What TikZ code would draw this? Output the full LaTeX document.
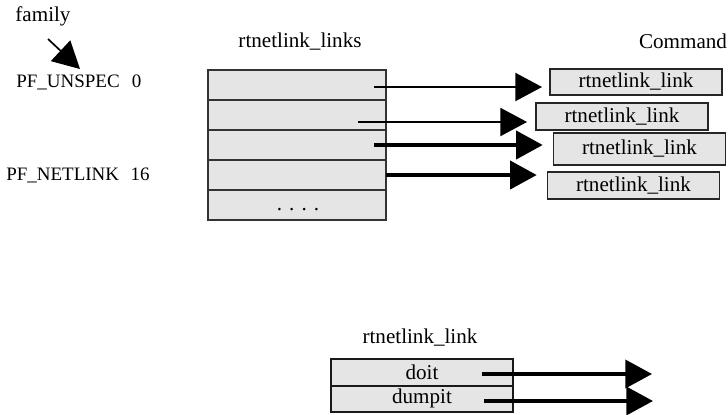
\documentclass[tikz,border=0pt]{standalone}
\usepackage{fontspec}
\setmainfont{Liberation Serif}
\usetikzlibrary{arrows.meta, positioning}

\begin{document}
\begin{tikzpicture}[x=0.025cm, y=-0.025cm, node distance=0pt,
    every node/.style={font=\fontsize{15}{17}\selectfont},
    pflabel/.style={anchor=west, inner sep=0pt, font=\fontsize{13.5}{15}\selectfont},
    cell/.style={rectangle, draw=black!80, fill=black!10, line width=0.9pt,
                 minimum width=4.45cm, minimum height=0.75cm,
                 inner sep=0pt, outer sep=0pt},
    cmdbox/.style={rectangle, draw=black!85, fill=black!10, line width=1.3pt,
                   minimum width=4.3cm, minimum height=0.67cm, inner sep=0pt},
    opbox/.style={rectangle, draw=black!90, fill=black!10, line width=1.4pt,
                  minimum width=4.55cm, minimum height=0.66cm,
                  inner sep=0pt, outer sep=0pt},
    arrow/.style={-{Triangle[length=19pt, width=20pt]}, line width=1.2pt},
    thickarrow/.style={arrow, line width=2.8pt}
]
\useasboundingbox (0,0) rectangle (728,414);

% family table
\node (fam) at (43,16) {family};
\node (unspec)  [pflabel] at (16,82) {PF\_UNSPEC\hspace{0.65em}0};
\node (netlink) [pflabel] at (6,175) {PF\_NETLINK\hspace{0.6em}16};
\coordinate (fa) at (48,39);
\coordinate (fb) at (80,69);
\draw [arrow] (fa) -- (fb);

% rtnetlink_links array
\node (links) at (300,42) {rtnetlink\_links};
\node (row1) [cell] at (297,85) {};
\node (row2) [cell, below=of row1] {};
\node (row3) [cell, below=of row2] {};
\node (row4) [cell, below=of row3] {};
\node (row5) [cell, below=of row4] {};
\node (dots) at (298,210) {. . . .};

% command entries
\node (cmd)  at (683,41) {Command};
\node (cmd1) [cmdbox] at (636,82)    {rtnetlink\_link};
\node (cmd2) [cmdbox] at (622,116.5) {rtnetlink\_link};
\node (cmd3) [cmdbox, minimum height=0.8cm] at (639.5,149) {rtnetlink\_link};
\node (cmd4) [cmdbox] at (633.5,185.5) {rtnetlink\_link};

\coordinate (s1) at (374,87);
\coordinate (s2) at (358,122);
\coordinate (s3) at (374,145);
\draw [arrow, shorten >=5pt]      (s1) -- (s1 -| cmd1.west);
\draw [arrow, shorten >=5.7pt]    (s2) -- (s2 -| cmd2.west);
\draw [thickarrow, shorten >=7pt] (s3) -- (s3 -| cmd3.west);
\draw [thickarrow, shorten >=7pt] (row4.east) -- (row4.east -| cmd4.west);

% rtnetlink_link structure
\node (op) at (420,338) {rtnetlink\_link};
\node (doit)   [opbox] at (422,372.5) {doit};
\node (dumpit) [opbox, below=of doit] {dumpit};
\coordinate (d1)  at (482,374);
\coordinate (d1e) at (652,374);
\coordinate (d2)  at (484,401);
\coordinate (d2e) at (653,401);
\draw [arrow, line width=2.4pt] (d1) -- (d1e);
\draw [arrow, line width=2.4pt] (d2) -- (d2e);
\end{tikzpicture}
\end{document}
